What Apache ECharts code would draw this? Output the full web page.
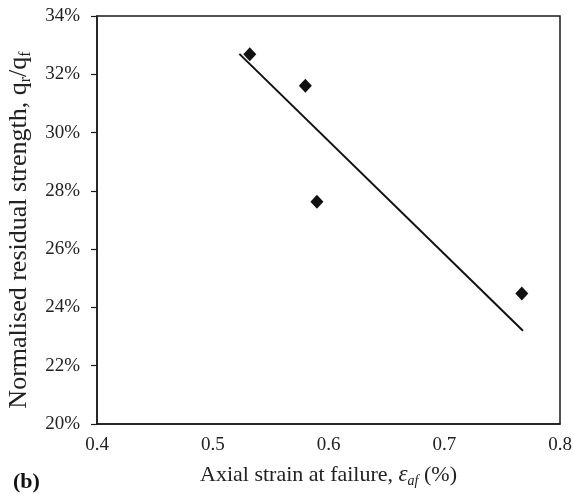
<!DOCTYPE html>
<html>
<head>
<meta charset="utf-8">
<script src="https://cdn.jsdelivr.net/npm/echarts@6/dist/echarts.min.js"></script>
<style>
  html, body { margin: 0; padding: 0; background: #fff; }
  #chart { width: 573px; height: 495px; }
</style>
</head>
<body>
<div id="chart"></div>
<script>
// measured points: axial strain at failure (%) vs normalised residual strength (%)
const strain = [0.532, 0.580, 0.590, 0.767]
const residual = [32.69, 31.61, 27.63, 24.48]
// trend line end points as drawn on the figure
const trendX = [0.523, 0.768]
const trendY = [32.7, 23.2]
const xTicks = { min: 0.4, max: 0.8, step: 0.1 }
const yTicks = { min: 20, max: 34, step: 2 }

const font = 'Liberation Serif'
const ink = '#1a1a1a'

function pairs(xs, ys) {
  return xs.map((x, i) => [x, ys[i]])
}

const option = {
  animation: false,
  backgroundColor: '#fff',
  textStyle: { fontFamily: font, color: ink },
  grid: {
    left: 97, right: 13, top: 16, bottom: 71,
    outerBoundsMode: 'none',
    containLabel: false,
    show: true, borderColor: ink, borderWidth: 1.5
  },
  xAxis: {
    type: 'value',
    min: xTicks.min, max: xTicks.max, interval: xTicks.step,
    axisLine: { lineStyle: { color: ink, width: 1.5 } },
    axisTick: { show: false },
    splitLine: { show: false },
    axisLabel: {
      fontFamily: font, fontSize: 19, color: '#222', margin: 12,
      formatter: v => v.toFixed(1)
    },
    name: '{t|Axial strain at failure, }{e|ε}{s|af}{t| (%)}',
    nameLocation: 'middle',
    nameGap: 38,
    nameTextStyle: {
      rich: {
        t: { fontFamily: font, fontSize: 22, color: '#222', lineHeight: 26 },
        e: { fontFamily: font, fontSize: 23, fontStyle: 'italic', color: '#222', lineHeight: 26 },
        s: { fontFamily: font, fontSize: 14, fontStyle: 'italic', color: '#222', lineHeight: 12, verticalAlign: 'bottom' }
      }
    }
  },
  yAxis: {
    type: 'value',
    min: yTicks.min, max: yTicks.max, interval: yTicks.step,
    axisLine: { show: true, lineStyle: { color: ink, width: 1.5 } },
    axisTick: { show: true, inside: false, length: 6, lineStyle: { color: ink, width: 1.2 } },
    splitLine: { show: false },
    axisLabel: {
      fontFamily: font, fontSize: 19, color: '#222', margin: 17,
      formatter: '{value}%'
    },
    // trailing blank token nudges the centred title a little down the axis
    name: '{t|Normalised residual strength, q}{s|r}{t|/q}{s|f}{gap|}',
    nameLocation: 'middle',
    nameRotate: 90,
    nameGap: 60,
    nameTextStyle: {
      rich: {
        t: { fontFamily: font, fontSize: 26, color: '#222', lineHeight: 30 },
        s: { fontFamily: font, fontSize: 16, color: '#222', lineHeight: 14, verticalAlign: 'bottom' },
        gap: { width: 20 }
      }
    }
  },
  graphic: [{
    type: 'text',
    left: 13, top: 471,
    style: { text: '(b)', font: 'bold 22px "Liberation Serif"', fill: '#111' }
  }],
  series: [
    {
      type: 'line',
      data: pairs(trendX, trendY),
      symbol: 'none',
      lineStyle: { color: '#111', width: 2 },
      z: 2
    },
    {
      type: 'scatter',
      data: pairs(strain, residual),
      symbol: 'diamond',
      symbolSize: [13, 14],
      itemStyle: { color: '#111', opacity: 1 },
      z: 3
    }
  ]
}

const myChart = echarts.init(document.getElementById('chart'), null, { renderer: 'canvas' })
myChart.setOption(option, true)
</script>
</body>
</html>
